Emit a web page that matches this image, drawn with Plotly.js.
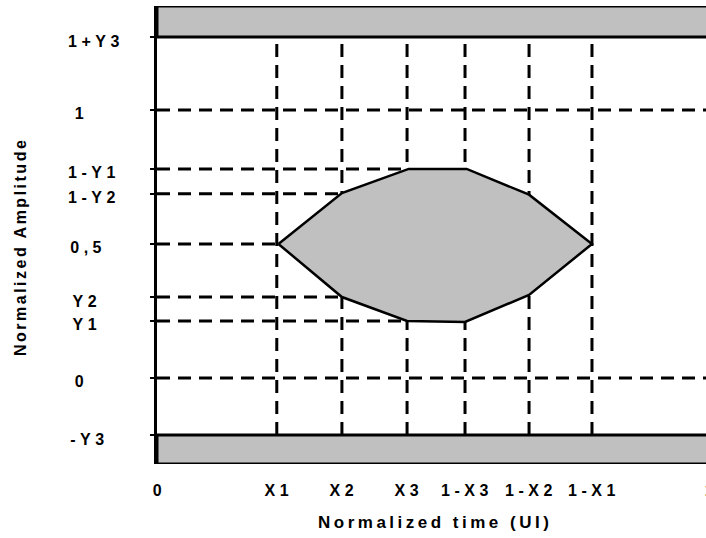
<!DOCTYPE html>
<html>
<head>
<meta charset="utf-8">
<script src="https://cdn.plot.ly/plotly-3.0.1.min.js"></script>
<style>
  html, body { margin: 0; padding: 0; overflow: hidden; background: #fff; }
  #chart .annotation-text { letter-spacing: 4.5px; }
</style>
</head>
<body>
<div id="chart"></div>
<script>
// ---- data ----
const xTickVals = [0, 0.217, 0.335, 0.453, 0.558, 0.674, 0.788, 1];
const xTickText = ['0', 'X1', 'X2', 'X3', '1-X3', '1-X2', '1-X1', '1'];
const yTickVals = [-0.213, 0, 0.213, 0.302, 0.5, 0.687, 0.78, 1, 1.272];
const yTickText = ['-Y3', '0', 'Y1', 'Y2', '0,5', '1-Y2', '1-Y1', '1', '1+Y3'];

// eye-mask polygon vertices (normalized time, normalized amplitude)
const eyeX = [0.22, 0.335, 0.456, 0.561, 0.674, 0.788, 0.674, 0.558, 0.453, 0.335, 0.22];
const eyeY = [0.5, 0.69, 0.78, 0.78, 0.684, 0.5, 0.31, 0.209, 0.213, 0.302, 0.5];

// guide lines: horizontal lines (level, end x), vertical lines (x positions)
const hLevels = [1, 0.78, 0.687, 0.5, 0.302, 0.213, 0];
const hEnds   = [1, 0.453, 0.335, 0.217, 0.335, 0.453, 1];
const vLines  = [0.217, 0.335, 0.453, 0.558, 0.674, 0.788];

const bandTop = 1.272;     // 1+Y3
const bandBottom = -0.213; // -Y3
const yRange = [-0.321, 1.388];
const xRange = [0, 1];

const xTitle = 'Normalized time (UI)';
const yTitle = 'Normalized Amplitude';

// ---- build traces ----
const dash = '13px,8px';
const gx = [], gy = [];
hLevels.forEach((lv, i) => { gx.push(0, hEnds[i], null); gy.push(lv, lv, null); });
const vx = [], vy = [];
vLines.forEach(v => { vx.push(v, v, null); vy.push(bandBottom, bandTop, null); });

const traces = [
  { x: gx, y: gy, mode: 'lines', line: { color: '#000', width: 3, dash: dash }, hoverinfo: 'skip', showlegend: false },
  { x: vx, y: vy, mode: 'lines', line: { color: '#000', width: 3, dash: dash }, hoverinfo: 'skip', showlegend: false },
  { x: eyeX, y: eyeY, mode: 'lines', fill: 'toself', fillcolor: '#c0c0c0', line: { color: '#000', width: 2.5 }, hoverinfo: 'skip', showlegend: false },
  { x: [xRange[0], xRange[1], xRange[1], xRange[0], xRange[0]], y: [bandTop, bandTop, yRange[1], yRange[1], bandTop], mode: 'lines', fill: 'toself', fillcolor: '#c0c0c0', line: { color: '#000', width: 3 }, hoverinfo: 'skip', showlegend: false, cliponaxis: false },
  { x: [xRange[0], xRange[1], xRange[1], xRange[0], xRange[0]], y: [bandBottom, bandBottom, yRange[0], yRange[0], bandBottom], mode: 'lines', fill: 'toself', fillcolor: '#c0c0c0', line: { color: '#000', width: 3 }, hoverinfo: 'skip', showlegend: false, cliponaxis: false }
];

const W = 709, H = 538;
const M = { l: 157, r: 0, t: 6, b: 74 };
const plotW = W - M.l - M.r, plotH = H - M.t - M.b;
const FAM = 'Liberation Sans, Arial, sans-serif';
const tickFont = { family: FAM, size: 16, color: '#000', weight: 700 };

const annotations = [];
yTickText.forEach((t, i) => annotations.push({
  text: t, xref: 'paper', x: (75 - M.l) / plotW, xanchor: 'left',
  yref: 'y', y: yTickVals[i], yanchor: 'middle', yshift: -4,
  showarrow: false, font: tickFont
}));
xTickText.forEach((t, i) => annotations.push({
  text: t, xref: 'x', x: xTickVals[i], xanchor: 'center', xshift: 2,
  yref: 'paper', y: 0, yanchor: 'middle', yshift: -26,
  showarrow: false, font: tickFont
}));
annotations.push({
  text: xTitle, xref: 'paper', x: 0.5, xanchor: 'center', xshift: 2,
  yref: 'paper', y: 0, yanchor: 'middle', yshift: -58,
  showarrow: false, font: { family: FAM, size: 17, color: '#000', weight: 700 }
});
annotations.push({
  text: yTitle, xref: 'paper', x: (20 - M.l) / plotW, xanchor: 'center',
  yref: 'paper', y: (H - M.b - 247) / plotH, yanchor: 'middle', textangle: -90,
  showarrow: false, font: { family: FAM, size: 16, color: '#000', weight: 700 }
});

const layout = {
  width: W, height: H,
  margin: M,
  paper_bgcolor: '#fff', plot_bgcolor: '#fff',
  showlegend: false,
  xaxis: { range: xRange, showgrid: false, zeroline: false, showline: false, ticks: '', showticklabels: false, fixedrange: true },
  yaxis: { range: yRange, showgrid: false, zeroline: false, showline: true, linecolor: '#000', linewidth: 3,
           ticks: 'outside', ticklen: 4, tickwidth: 2, tickcolor: '#000', tickvals: yTickVals, showticklabels: false, fixedrange: true },
  annotations: annotations
};

Plotly.newPlot('chart', traces, layout, { displayModeBar: false, staticPlot: true }).then(() => {
  document.querySelectorAll('#chart .annotation-text').forEach(el => {
    if (el.textContent === xTitle) el.style.letterSpacing = '3.5px';
    else if (el.textContent === yTitle) el.style.letterSpacing = '2.5px';
  });
});
</script>
</body>
</html>
